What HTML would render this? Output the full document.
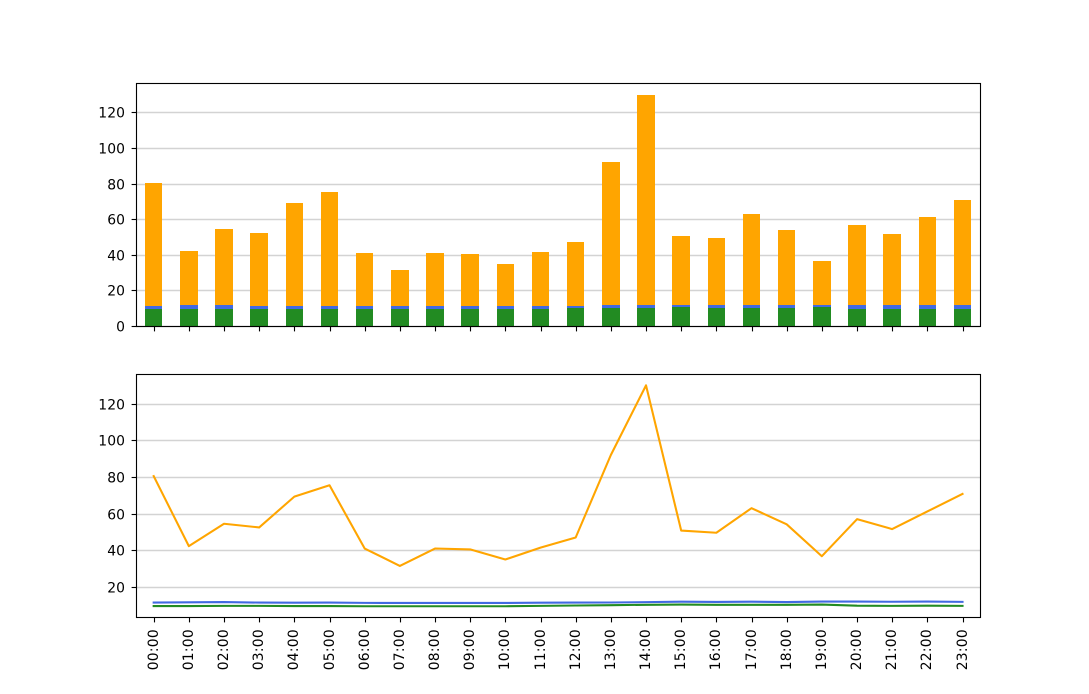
<!DOCTYPE html>
<html>
<head>
<meta charset="utf-8">
<title>Hourly stacked chart</title>
<style>
html,body{margin:0;padding:0;background:#fff;width:1089px;height:694px;overflow:hidden}
svg{display:block}
text{font-family:"DejaVu Sans","Liberation Sans",sans-serif;font-size:13.9px;fill:#000}
</style>
</head>
<body>
<svg id="chart" xmlns="http://www.w3.org/2000/svg" width="1089" height="694" viewBox="0 0 1089 694"></svg>
<script>
const hours = ["00:00","01:00","02:00","03:00","04:00","05:00","06:00","07:00","08:00","09:00","10:00","11:00","12:00","13:00","14:00","15:00","16:00","17:00","18:00","19:00","20:00","21:00","22:00","23:00"];
const greenTop = [9.6,9.6,9.7,9.7,9.6,9.6,9.5,9.5,9.5,9.5,9.5,9.7,9.9,10.1,10.3,10.4,10.3,10.3,10.3,10.4,9.8,9.7,9.8,9.7];
const blueTop = [11.5,11.65,11.8,11.5,11.45,11.5,11.35,11.3,11.3,11.3,11.3,11.45,11.5,11.55,11.75,12,11.85,12,11.8,12.05,12.05,11.95,12.05,11.9];
const orangeTop = [80.5,42.3,54.5,52.5,69.3,75.5,41,31.5,41,40.5,35,41.5,47,92,130,50.8,49.6,63,54.2,36.8,57,51.6,61.2,70.8];
const topTicks = [0,20,40,60,80,100,120];
const bottomTicks = [20,40,60,80,100,120];

const SVGNS = "http://www.w3.org/2000/svg";
const svg = document.getElementById("chart");
const L = 136.1, R = 980.1;
const T1 = 83.1, B1 = 326.0, T2 = 374.3, B2 = 617.3;
const GREEN = "#228b22", BLUE = "#4169e1", ORANGE = "#ffa500";

function snap(v){ return Math.floor(v + 0.5) + 0.5; }
function xScale(i){ return L + (i + 0.5) * (R - L) / hours.length; }
function yTop(v){ return B1 - v * (B1 - T1) / (Math.max(...orangeTop) * 1.05); }
function yBottom(v){
  const lo = Math.min(...greenTop), hi = Math.max(...orangeTop), m = (hi - lo) * 0.05;
  return B2 - (v - (lo - m)) * (B2 - T2) / (hi - lo + 2 * m);
}
function add(parent, tag, attrs){
  const el = document.createElementNS(SVGNS, tag);
  for (const k in attrs) el.setAttribute(k, attrs[k]);
  parent.appendChild(el);
  return el;
}
function group(name){
  const g = add(svg, "g", {});
  
  
  return g;
}
function frame(parent, top, bottom){
  const x0 = snap(L), x1 = snap(R), y0 = snap(top), y1 = snap(bottom);
  const r = add(parent, "rect", {x:x0, y:y0, width:x1-x0, height:y1-y0, fill:"none", stroke:"#000", "stroke-width":1.11});
  
  
}
function yAxis(parent, ticks, scale){
  ticks.forEach(function(v){
    const y = snap(scale(v));
    const tick = add(parent, "line", {x1:snap(L)-4.9, x2:snap(L), y1:y, y2:y, stroke:"#000", "stroke-width":1.11});
    
    
    const label = add(parent, "text", {x:L-11, y:y+5.2, "text-anchor":"end", "letter-spacing":"0.1"});
    label.textContent = String(v);
    
    
  });
}
function grid(parent, ticks, scale){
  ticks.forEach(function(v){
    const y = snap(scale(v));
    const line = add(parent, "line", {x1:L, x2:R, y1:y, y2:y, stroke:"#d3d3d3", "stroke-width":1.39});
    
    
  });
}
function xTicks(parent, bottom, withLabels){
  hours.forEach(function(h, i){
    const x = snap(xScale(i));
    const yb = snap(bottom);
    const tick = add(parent, "line", {x1:x, x2:x, y1:yb, y2:yb+4.9, stroke:"#000", "stroke-width":1.11});
    
    
    if (withLabels){
      const lx = x + 3.7, ly = bottom + 11.7;
      const label = add(parent, "text", {x:lx, y:ly, "text-anchor":"end", "letter-spacing":"0.25", transform:"rotate(-90 "+lx+" "+ly+")"});
      label.textContent = h;
      
      
    }
  });
}
function bar(parent, i, from, to, color, name){
  const w = (R - L) / hours.length * 0.5;
  const x0 = Math.round(xScale(i) - w / 2), x1 = Math.round(xScale(i) + w / 2);
  const y0 = Math.round(yTop(to)), y1 = Math.round(yTop(from));
  const r = add(parent, "rect", {x:x0, y:y0, width:x1-x0, height:y1-y0, fill:color, "shape-rendering":"crispEdges"});
  
  
}
function line(parent, values, color, name){
  const pts = values.map(function(v, i){ return xScale(i).toFixed(2)+","+yBottom(v).toFixed(2); }).join(" ");
  const p = add(parent, "polyline", {points:pts, fill:"none", stroke:color, "stroke-width":2.08, "stroke-linejoin":"round", "stroke-linecap":"square"});
  
  
}

const topPanel = group("stacked-bar-panel");
grid(topPanel, topTicks, yTop);
hours.forEach(function(h, i){
  bar(topPanel, i, 0, greenTop[i], GREEN, "bar-green");
  bar(topPanel, i, greenTop[i], blueTop[i], BLUE, "bar-blue");
  bar(topPanel, i, blueTop[i], orangeTop[i], ORANGE, "bar-orange");
});
frame(topPanel, T1, B1);
yAxis(topPanel, topTicks, yTop);
xTicks(topPanel, B1, false);

const bottomPanel = group("line-panel");
grid(bottomPanel, bottomTicks, yBottom);
line(bottomPanel, greenTop, GREEN, "line-green");
line(bottomPanel, blueTop, BLUE, "line-blue");
line(bottomPanel, orangeTop, ORANGE, "line-orange");
frame(bottomPanel, T2, B2);
yAxis(bottomPanel, bottomTicks, yBottom);
xTicks(bottomPanel, B2, true);
</script>
</body>
</html>
